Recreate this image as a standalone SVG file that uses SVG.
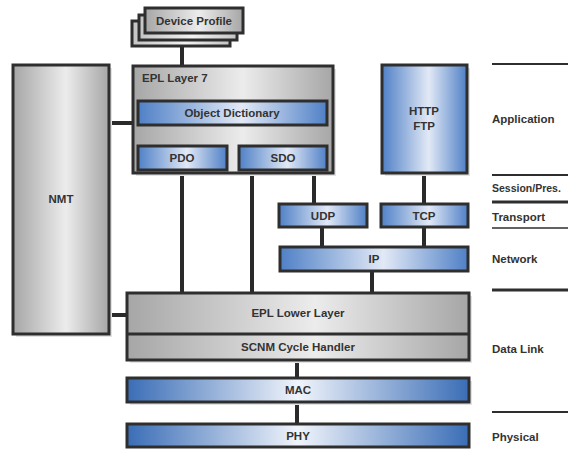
<svg xmlns="http://www.w3.org/2000/svg" width="568" height="449" viewBox="0 0 568 449">
<defs>
<linearGradient id="gray" x1="0" y1="0" x2="1" y2="0">
<stop offset="0" stop-color="#a6a6a6"/><stop offset="0.55" stop-color="#ececec"/><stop offset="1" stop-color="#a6a6a6"/>
</linearGradient>
<linearGradient id="gray2" x1="0" y1="0" x2="1" y2="0">
<stop offset="0" stop-color="#c4c4c4"/><stop offset="0.55" stop-color="#f2f2f2"/><stop offset="1" stop-color="#c4c4c4"/>
</linearGradient>
<linearGradient id="blue" x1="0" y1="0" x2="1" y2="0">
<stop offset="0" stop-color="#4f80c6"/><stop offset="0.55" stop-color="#e2e9f6"/><stop offset="1" stop-color="#4f80c6"/>
</linearGradient>
<linearGradient id="blue2" x1="0" y1="0" x2="1" y2="0">
<stop offset="0" stop-color="#3a6db6"/><stop offset="0.5" stop-color="#f0f4fb"/><stop offset="1" stop-color="#3a6db6"/>
</linearGradient>
</defs>
<style>
.box{stroke:#2e2e2e;stroke-width:3}
.g{fill:url(#gray)}
.g2{fill:url(#gray2)}
.b{fill:url(#blue)}
.b2{fill:url(#blue2)}
.sh{fill:#e3e3e3}
text{font-family:"Liberation Sans",Arial,sans-serif;font-size:11.5px;fill:#333;font-weight:bold;text-anchor:middle}
.lbl{text-anchor:start;font-weight:bold;font-size:11.5px}
.con{stroke:#2a2a2a;stroke-width:4;fill:none}
.rule{stroke:#2e2e2e;fill:none}
</style>
<rect width="568" height="449" fill="#fff"/>

<g id="connectors">
<line class="con" x1="182" y1="46" x2="182" y2="66"/>
<line class="con" x1="109" y1="123" x2="134" y2="123"/>
<line class="con" x1="109" y1="315" x2="128" y2="315"/>
<line class="con" x1="182" y1="172" x2="182" y2="293"/>
<line class="con" x1="252" y1="172" x2="252" y2="293"/>
<line class="con" x1="314" y1="172" x2="314" y2="204"/>
<line class="con" x1="424" y1="172" x2="424" y2="204"/>
<line class="con" x1="322" y1="227" x2="322" y2="247"/>
<line class="con" x1="424" y1="227" x2="424" y2="247"/>
<line class="con" x1="372" y1="271" x2="372" y2="293"/>
<line class="con" x1="297" y1="359" x2="297" y2="379"/>
<line class="con" x1="297" y1="403" x2="297" y2="424"/>
</g>

<g id="device-profile">
<rect class="box g2" x="132" y="21" width="98" height="25"/>
<rect class="box g2" x="139" y="15" width="98" height="25"/>
<rect class="box g" x="145" y="8" width="98" height="25"/>
<text x="194" y="25">Device Profile</text>
</g>

<g id="nmt">
<rect class="sh" x="16" y="68" width="96" height="269"/>
<rect class="box g" x="13" y="65" width="96" height="269"/>
<text x="61" y="203">NMT</text>
</g>

<g id="epl-layer7">
<rect class="sh" x="136" y="69" width="200" height="107"/>
<rect class="box g" x="133" y="66" width="200" height="107"/>
<text x="142" y="82" style="text-anchor:start">EPL Layer 7</text>
</g>
<g id="object-dictionary">
<rect class="box b" x="138" y="101" width="189" height="24"/>
<text x="232" y="117">Object Dictionary</text>
</g>
<g id="pdo">
<rect class="box b" x="138" y="146" width="89" height="24"/>
<text x="182" y="162">PDO</text>
</g>
<g id="sdo">
<rect class="box b" x="239" y="146" width="88" height="24"/>
<text x="283" y="162">SDO</text>
</g>

<g id="http-ftp">
<rect class="sh" x="385" y="68" width="85" height="108"/>
<rect class="box b" x="382" y="65" width="85" height="108"/>
<text x="424" y="115">HTTP</text>
<text x="424" y="130">FTP</text>
</g>

<g id="udp">
<rect class="box b" x="279" y="204" width="88" height="23"/>
<text x="323" y="219.5">UDP</text>
</g>
<g id="tcp">
<rect class="box b" x="381" y="204" width="87" height="23"/>
<text x="424" y="219.5">TCP</text>
</g>
<g id="ip">
<rect class="box b" x="280" y="247" width="188" height="24"/>
<text x="374" y="263">IP</text>
</g>

<g id="epl-lower-layer">
<rect class="sh" x="130" y="296" width="342" height="67"/>
<rect class="box g" x="127" y="293" width="342" height="67"/>
<line x1="127" y1="334" x2="469" y2="334" stroke="#2e2e2e" stroke-width="3"/>
<text x="298" y="317">EPL Lower Layer</text>
</g>
<g id="scnm-cycle-handler">
<text x="298" y="351">SCNM Cycle Handler</text>
</g>
<g id="mac">
<rect class="sh" x="130" y="381" width="342" height="24"/>
<rect class="box b2" x="127" y="378" width="342" height="24"/>
<text x="298" y="394">MAC</text>
</g>
<g id="phy">
<rect class="box b2" x="127" y="424" width="342" height="23"/>
<text x="298" y="440">PHY</text>
</g>

<g id="layers">
<line class="rule" x1="492" y1="64" x2="568" y2="64" stroke-width="2"/>
<text class="lbl" x="492" y="123">Application</text>
<line class="rule" x1="492" y1="175" x2="568" y2="175" stroke-width="2"/>
<text class="lbl" x="492" y="192" style="font-size:10.5px">Session/Pres.</text>
<line class="rule" x1="492" y1="202" x2="568" y2="202" stroke-width="3"/>
<text class="lbl" x="492" y="221">Transport</text>
<line class="rule" x1="492" y1="228" x2="568" y2="228" stroke-width="1.5"/>
<text class="lbl" x="492" y="263">Network</text>
<line class="rule" x1="492" y1="290" x2="568" y2="290" stroke-width="3"/>
<text class="lbl" x="492" y="353">Data Link</text>
<line class="rule" x1="492" y1="412" x2="568" y2="412" stroke-width="2"/>
<text class="lbl" x="492" y="441">Physical</text>
</g>
</svg>
